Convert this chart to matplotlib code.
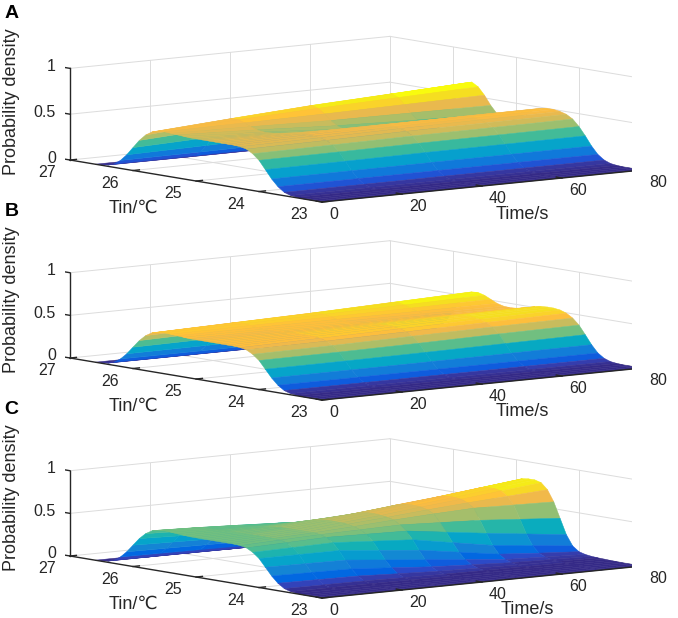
import numpy as np
import matplotlib
matplotlib.use("Agg")
import matplotlib.pyplot as plt
from matplotlib.colors import ListedColormap, Normalize
from mpl_toolkits.mplot3d import proj3d

plt.rcParams['font.family'] = ['Liberation Sans', 'DejaVu Sans']

# ---------------- data ----------------
tin_c = np.round(np.arange(23.0, 26.61, 0.1), 1)   # Tin grid 23.0 ... 26.6 (37 values)
# each row: density for Tin = 23.4 ... 26.5 (below 23.4 and at 26.6 the density is 0)
time_A = [0, 20, 40, 60, 80]
dens_A = [
    [0.005,0.014,0.037,0.087,0.16,0.25,0.34,0.40,0.44,0.455, 0.46,0.46,0.46,0.46,0.46,0.46,0.46,0.46,0.465,0.47,
     0.475,0.48,0.475,0.455,0.41,0.34,0.25,0.16,0.087,0.037, 0.014,0.005],
    [0.005,0.014,0.038,0.088,0.163,0.255,0.345,0.41,0.448,0.465, 0.472,0.474,0.472,0.465,0.455,0.443,0.432,0.425,0.425,0.437,
     0.46,0.49,0.512,0.515,0.475,0.39,0.28,0.175,0.092,0.04, 0.014,0.005],
    [0.005,0.014,0.039,0.089,0.166,0.262,0.352,0.42,0.46,0.478, 0.485,0.486,0.482,0.467,0.44,0.41,0.385,0.37,0.372,0.395,
     0.44,0.5,0.55,0.57,0.54,0.45,0.32,0.195,0.1,0.043, 0.015,0.005],
    [0.005,0.014,0.04,0.09,0.168,0.266,0.356,0.425,0.465,0.485, 0.494,0.495,0.488,0.465,0.43,0.39,0.355,0.337,0.337,0.37,
     0.435,0.515,0.58,0.61,0.585,0.49,0.35,0.21,0.105,0.044, 0.015,0.005],
    [0.005,0.014,0.04,0.09,0.17,0.27,0.36,0.43,0.47,0.49, 0.50,0.50,0.49,0.46,0.42,0.37,0.33,0.31,0.31,0.35,
     0.43,0.53,0.61,0.65,0.63,0.53,0.38,0.22,0.11,0.045, 0.015,0.005],
]
time_B = [0, 20, 40, 60, 80]
dens_B = [
    [0.005,0.014,0.037,0.087,0.16,0.25,0.34,0.40,0.44,0.455, 0.46,0.46,0.46,0.46,0.46,0.46,0.46,0.46,0.465,0.47,
     0.475,0.48,0.475,0.455,0.41,0.34,0.25,0.16,0.087,0.037, 0.014,0.005],
    [0.005,0.014,0.037,0.087,0.162,0.253,0.345,0.41,0.45,0.47, 0.478,0.48,0.48,0.477,0.472,0.468,0.465,0.465,0.467,0.474,
     0.484,0.494,0.495,0.478,0.432,0.358,0.26,0.165,0.088,0.037, 0.014,0.005],
    [0.005,0.014,0.038,0.088,0.165,0.26,0.355,0.425,0.465,0.488, 0.498,0.5,0.497,0.49,0.48,0.47,0.465,0.462,0.465,0.475,
     0.492,0.51,0.515,0.5,0.455,0.375,0.27,0.17,0.09,0.039, 0.014,0.005],
    [0.005,0.014,0.039,0.089,0.17,0.27,0.37,0.44,0.48,0.505, 0.515,0.515,0.51,0.5,0.485,0.47,0.46,0.455,0.46,0.475,
     0.5,0.525,0.54,0.53,0.48,0.39,0.28,0.175,0.093,0.04, 0.014,0.005],
    [0.005,0.014,0.04,0.09,0.175,0.28,0.38,0.45,0.495,0.52, 0.53,0.53,0.525,0.51,0.49,0.47,0.455,0.45,0.455,0.475,
     0.51,0.545,0.565,0.56,0.51,0.41,0.29,0.18,0.095,0.04, 0.014,0.005],
]
time_C = [0, 10, 20, 30, 40, 50, 60, 70, 80]
dens_C = [
    [0.005,0.014,0.037,0.087,0.16,0.25,0.34,0.40,0.44,0.455, 0.46,0.46,0.46,0.46,0.46,0.46,0.46,0.46,0.465,0.47,
     0.475,0.48,0.475,0.455,0.41,0.34,0.25,0.16,0.087,0.037, 0.014,0.005],
    [0.005,0.014,0.035,0.083,0.155,0.245,0.34,0.41,0.455,0.473, 0.48,0.48,0.48,0.48,0.478,0.476,0.474,0.472,0.47,0.468,
     0.466,0.466,0.46,0.44,0.395,0.325,0.24,0.155,0.084,0.036, 0.014,0.005],
    [0.005,0.013,0.033,0.078,0.15,0.24,0.34,0.42,0.47,0.49, 0.5,0.5,0.5,0.5,0.5,0.495,0.49,0.48,0.47,0.46,
     0.455,0.45,0.44,0.42,0.38,0.31,0.23,0.15,0.08,0.035, 0.013,0.005],
    [0.004,0.01,0.025,0.058,0.115,0.195,0.295,0.39,0.46,0.50, 0.525,0.54,0.545,0.548,0.548,0.54,0.527,0.51,0.49,0.465,
     0.447,0.432,0.418,0.395,0.355,0.29,0.215,0.14,0.075,0.032, 0.012,0.004],
    [0.003,0.008,0.018,0.04,0.08,0.15,0.25,0.36,0.45,0.51, 0.555,0.575,0.585,0.59,0.59,0.58,0.56,0.535,0.505,0.47,
     0.44,0.415,0.395,0.37,0.33,0.27,0.2,0.13,0.07,0.03, 0.011,0.004],
    [0.003,0.007,0.015,0.03,0.057,0.105,0.18,0.28,0.39,0.49, 0.58,0.615,0.635,0.642,0.642,0.632,0.61,0.58,0.542,0.497,
     0.45,0.408,0.368,0.325,0.275,0.215,0.155,0.098,0.052,0.023, 0.008,0.003],
    [0.003,0.006,0.012,0.02,0.035,0.06,0.11,0.2,0.33,0.47, 0.6,0.65,0.68,0.69,0.69,0.68,0.655,0.62,0.575,0.52,
     0.46,0.4,0.34,0.28,0.22,0.16,0.11,0.065,0.035,0.016, 0.006,0.002],
    [0.002,0.005,0.01,0.015,0.025,0.042,0.075,0.15,0.275,0.435, 0.59,0.68,0.73,0.745,0.745,0.735,0.708,0.665,0.607,0.535,
     0.455,0.375,0.3,0.23,0.17,0.115,0.075,0.042,0.022,0.01, 0.004,0.001],
    [0.002,0.004,0.007,0.01,0.015,0.025,0.045,0.10,0.22,0.40, 0.58,0.71,0.78,0.80,0.80,0.79,0.76,0.71,0.64,0.55,
     0.45,0.35,0.26,0.18,0.12,0.07,0.04,0.02,0.01,0.005, 0.002,0.0],
]
z_ticks = [0, 0.5, 1]
tin_ticks = [27, 26, 25, 24, 23]
time_ticks = [0, 20, 40, 60, 80]
panel_letters = ['A', 'B', 'C']

# ---------------- MATLAB parula colormap ----------------
_parula = [
 [0.2081,0.1663,0.5292],[0.2116,0.1898,0.5777],[0.2123,0.2138,0.6270],[0.2081,0.2386,0.6771],
 [0.1959,0.2645,0.7279],[0.1707,0.2919,0.7792],[0.1253,0.3242,0.8303],[0.0591,0.3598,0.8683],
 [0.0117,0.3875,0.8820],[0.0060,0.4086,0.8828],[0.0165,0.4266,0.8786],[0.0329,0.4430,0.8720],
 [0.0498,0.4586,0.8641],[0.0629,0.4737,0.8554],[0.0723,0.4887,0.8467],[0.0779,0.5040,0.8384],
 [0.0793,0.5200,0.8312],[0.0749,0.5375,0.8263],[0.0641,0.5570,0.8240],[0.0488,0.5772,0.8228],
 [0.0343,0.5966,0.8199],[0.0265,0.6137,0.8135],[0.0239,0.6287,0.8038],[0.0231,0.6418,0.7913],
 [0.0228,0.6535,0.7768],[0.0267,0.6642,0.7607],[0.0384,0.6743,0.7436],[0.0590,0.6838,0.7254],
 [0.0843,0.6928,0.7062],[0.1133,0.7015,0.6859],[0.1453,0.7098,0.6646],[0.1801,0.7177,0.6424],
 [0.2178,0.7250,0.6193],[0.2586,0.7317,0.5954],[0.3022,0.7376,0.5712],[0.3482,0.7424,0.5473],
 [0.3953,0.7459,0.5244],[0.4420,0.7481,0.5033],[0.4871,0.7491,0.4840],[0.5300,0.7491,0.4661],
 [0.5709,0.7485,0.4494],[0.6099,0.7473,0.4337],[0.6473,0.7456,0.4188],[0.6834,0.7435,0.4044],
 [0.7184,0.7411,0.3905],[0.7525,0.7384,0.3768],[0.7858,0.7356,0.3633],[0.8185,0.7327,0.3498],
 [0.8507,0.7299,0.3360],[0.8824,0.7274,0.3217],[0.9139,0.7258,0.3063],[0.9450,0.7261,0.2886],
 [0.9739,0.7314,0.2666],[0.9938,0.7455,0.2403],[0.9990,0.7653,0.2164],[0.9955,0.7861,0.1967],
 [0.9880,0.8066,0.1794],[0.9789,0.8271,0.1633],[0.9697,0.8481,0.1475],[0.9626,0.8705,0.1309],
 [0.9589,0.8949,0.1132],[0.9598,0.9218,0.0948],[0.9661,0.9514,0.0755],[0.9763,0.9831,0.0538]]
parula = ListedColormap(_parula, name='parula')

# ---------------- figure / layout ----------------
W, H = 678, 618
fig = plt.figure(figsize=(W / 100, H / 100), dpi=100)
fig.patch.set_facecolor('white')

ELEV, AZIM = 7.42, -127.76
AX_COL = '#262626'
GRID_COL = '#dcdcdc'

panels = [
    dict(letter='A', t=time_A, dens=dens_A, dy=0,   lz=92.4, clim=(0, 0.60), tx=522, ty=215),
    dict(letter='B', t=time_B, dens=dens_B, dy=198, lz=86.0, clim=(0, 0.56), tx=522, ty=412),
    dict(letter='C', t=time_C, dens=dens_C, dy=396, lz=86.0, clim=(0, 0.80), tx=527, ty=609),
]


def to_px(ax, xs, ys, zs):
    tx, ty, _ = proj3d.proj_transform(np.asarray(xs, float), np.asarray(ys, float),
                                      np.asarray(zs, float), ax.M)
    return ax.transData.transform(np.column_stack([tx, ty]))


axes = []
for p in panels:
    ax = fig.add_axes([0, 0, 1, 1], projection='3d')
    ax.set_proj_type('ortho')
    ax.view_init(elev=ELEV, azim=AZIM)
    ax.set_box_aspect((404.7, 411.6, p['lz']))
    ax.set_xlim(0, 80)
    ax.set_ylim(23, 27)
    ax.set_zlim(0, 1)
    ax.set_axis_off()
    ax.patch.set_alpha(0)
    ax.computed_zorder = False

    Z = np.array([[0.0] * 4 + row + [0.0] for row in p['dens']])
    assert Z.shape == (len(p['t']), len(tin_c))
    T, TIN = np.meshgrid(p['t'], tin_c, indexing='ij')

    # grid lines on back walls and floor
    gkw = dict(color=GRID_COL, lw=0.7, zorder=1)
    for t in time_ticks[1:]:
        ax.plot([t, t], [27, 27], [0, 1], **gkw)
        ax.plot([t, t], [23, 27], [0, 0], **gkw)
    for z in z_ticks:
        ax.plot([0, 80], [27, 27], [z, z], **gkw)
        ax.plot([80, 80], [23, 27], [z, z], **gkw)
    for tin in tin_ticks[1:]:
        ax.plot([80, 80], [tin, tin], [0, 1], **gkw)
        ax.plot([0, 80], [tin, tin], [0, 0], **gkw)

    norm = Normalize(*p['clim'])
    surf = ax.plot_surface(T, TIN, Z, rstride=1, cstride=1, cmap=parula, norm=norm,
                           linewidth=0.35, antialiased=True, shade=False, zorder=2)
    # edges in the colour of their own face (hides the seams between faces)
    face_z = 0.25 * (Z[:-1, :-1] + Z[1:, :-1] + Z[:-1, 1:] + Z[1:, 1:])
    surf.set_edgecolor(parula(norm(face_z.ravel())))

    # axis lines and tick marks
    akw = dict(color=AX_COL, lw=1.0, zorder=3)
    ax.plot([0, 0], [27, 27], [0, 1], **akw)
    ax.plot([0, 0], [27, 23], [0, 0], **akw)
    ax.plot([0, 80], [23, 23], [0, 0], **akw)
    for z in z_ticks:
        ax.plot([0, 0], [27, 27.12], [z, z], **akw)
    for tin in tin_ticks:
        ax.plot([0, 1.6], [tin, tin], [0, 0], **akw)
    for t in time_ticks:
        ax.plot([t, t], [23, 23.09], [0, 0], **akw)
    axes.append(ax)

# fit each 3D box to its place in the figure (pixel targets, top-left origin)
for _ in range(2):
    fig.canvas.draw()
    for ax, p in zip(axes, panels):
        pts = to_px(ax, [0, 80], [27, 23], [0, 0])
        tL = np.array([70.0, H - (160 + p['dy'])])
        tR = np.array([642.0, H - (170 + p['dy'])])
        pos = ax.get_position()
        x0, y0, side = pos.x0 * W, pos.y0 * H, pos.width * W
        s = (tR[0] - tL[0]) / (pts[1, 0] - pts[0, 0])
        nx0 = tL[0] - s * (pts[0, 0] - x0)
        ny0 = tL[1] - s * (pts[0, 1] - y0)
        ax.set_position([nx0 / W, ny0 / H, side * s / W, side * s / H], which='both')

fig.canvas.draw()

TXT = dict(color=AX_COL, fontsize=11.5)
for ax, p in zip(axes, panels):
    dy = p['dy']
    pz = to_px(ax, [0] * 3, [27] * 3, z_ticks)
    for (x, y), z in zip(pz, z_ticks):
        fig.text((x - 14) / W, (y + 2) / H, f'{z:g}', ha='right', va='center', **TXT)
    pt = to_px(ax, [0] * 5, tin_ticks, [0] * 5)
    for (x, y), v in zip(pt, tin_ticks):
        fig.text((x - 14) / W, (y - 12.5) / H, f'{v}', ha='right', va='center', **TXT)
    pm = to_px(ax, time_ticks, [23] * 5, [0] * 5)
    for (x, y), v in zip(pm, time_ticks):
        fig.text((x + 7) / W, (y - 12) / H, f'{v}', ha='left', va='center', **TXT)

    fig.text(133 / W, 1 - (208 + dy) / H, 'Tin/℃', ha='center', va='center',
             color=AX_COL, fontsize=13)
    fig.text(p['tx'] / W, 1 - p['ty'] / H, 'Time/s', ha='center', va='center',
             color=AX_COL, fontsize=13)
    fig.text(12 / W, 1 - (102 + dy) / H, 'Probability density', rotation=90,
             ha='center', va='center', color=AX_COL, fontsize=13)
    fig.text(11.5 / W, 1 - (13.5 + dy) / H, p['letter'], ha='center', va='center',
             color='black', fontsize=14, fontweight='bold')

fig.savefig('out.png', dpi=100, facecolor='white')
